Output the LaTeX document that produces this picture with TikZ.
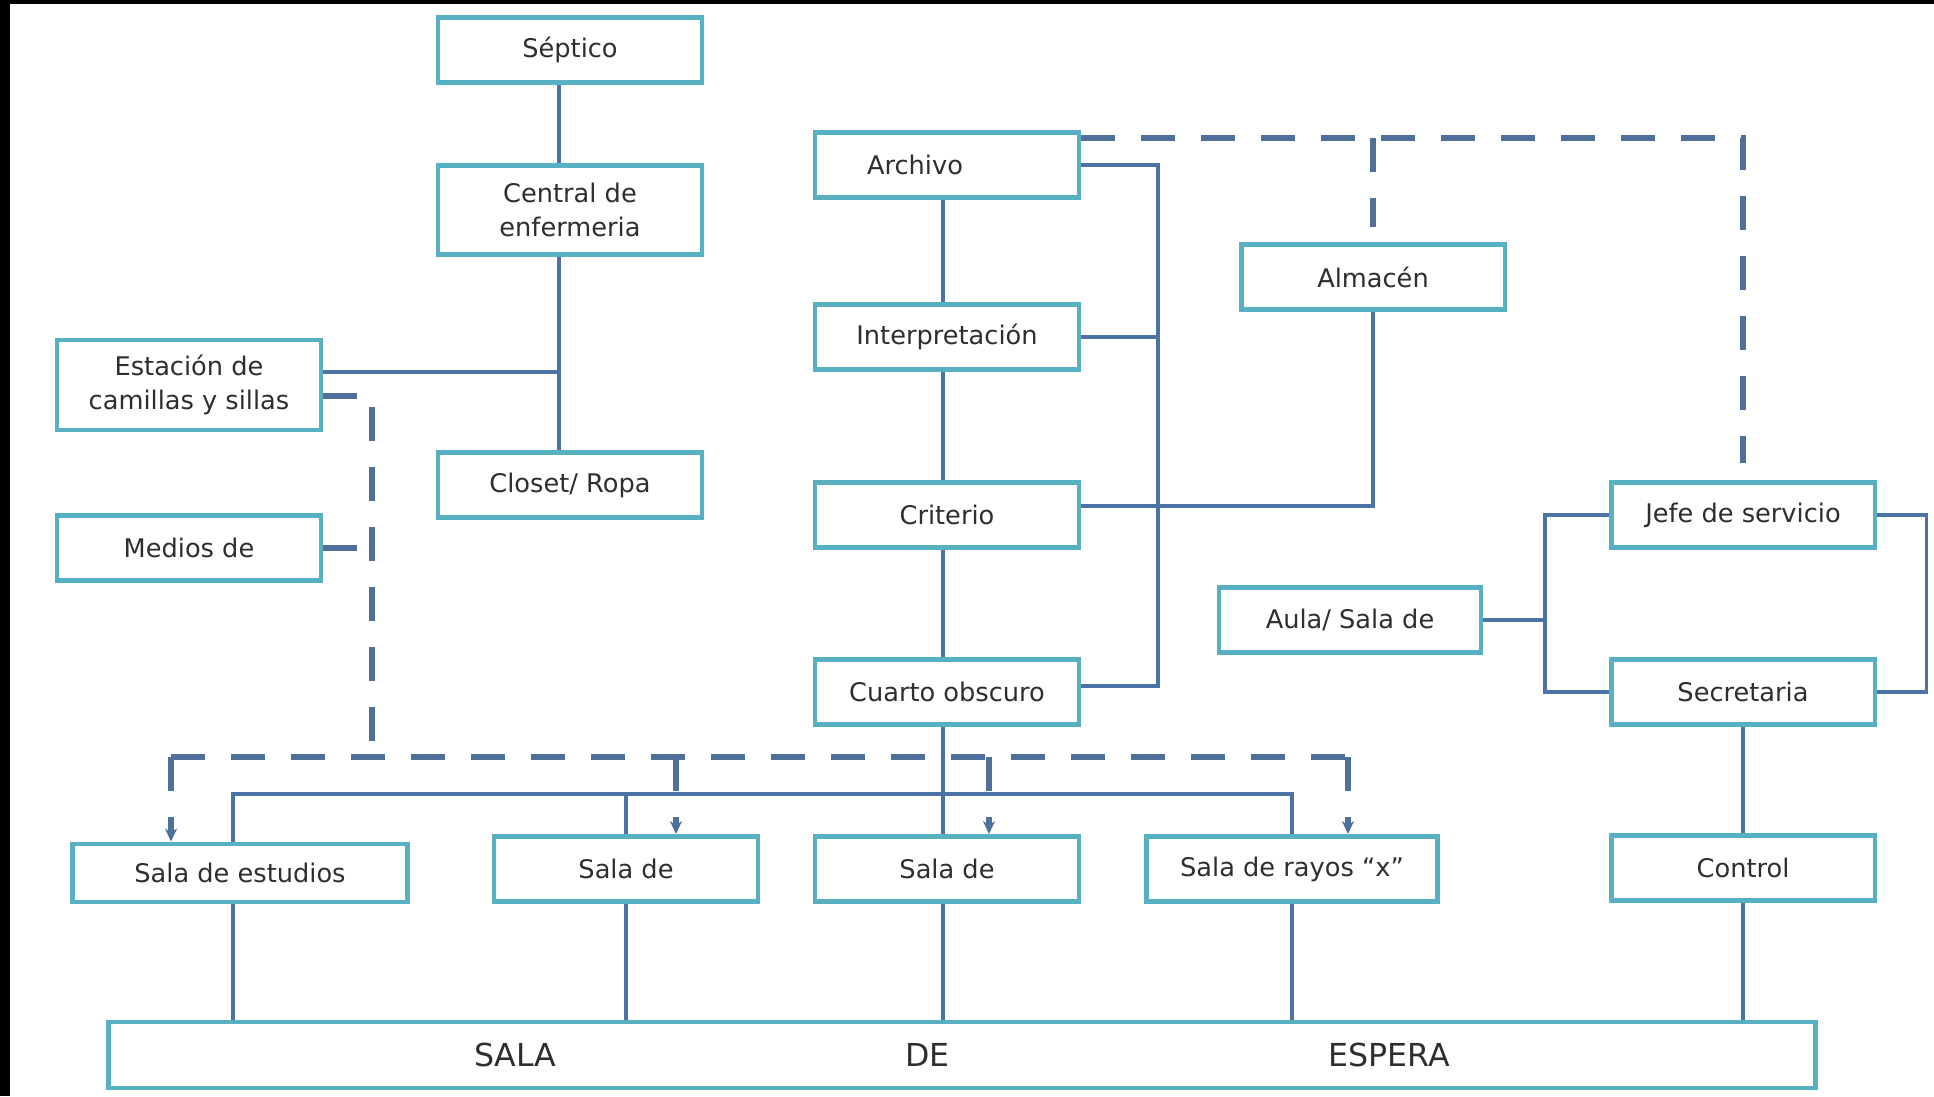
\documentclass[tikz,border=0pt]{standalone}
\usepackage{fontspec}
\setmainfont{DejaVu Sans}
\usetikzlibrary{arrows.meta}
\definecolor{caja}{HTML}{57B1C2}
\definecolor{linea}{HTML}{4B73A6}
\definecolor{guion}{HTML}{50709C}
\definecolor{texto}{HTML}{2E2E2E}

\begin{document}
\begin{tikzpicture}[x=0.02cm, y=-0.02cm,
    area/.style={draw=caja, fill=white, line width=2.8pt, inner sep=0pt,
                 minimum width=5.28cm, minimum height=1.3cm, align=center,
                 text=texto, font=\fontsize{14.6}{19.6}\selectfont},
    conn/.style={draw=linea, line width=2.2pt},
    dashln/.style={draw=guion, line width=3pt, dash pattern=on 0.68cm off 0.52cm},
    flecha/.style={-{Stealth[length=0.26cm, width=0.24cm]}},
]

\useasboundingbox (0,0) rectangle (1934,1096);
\fill[white] (0,0) rectangle (1934,1096);
\fill[black] (0,0) rectangle (10,1096);
\fill[black] (0,0) rectangle (1934,4);

% Enfermeria
\node[area] (septico) at (570,50) {Séptico};
\node[area, minimum height=1.78cm] (central) at (570,210) {Central de\\enfermeria};
\node[area, minimum height=1.8cm] (estacion) at (189,385) {Estación de\\camillas y sillas};
\node[area] (closet) at (570,485) {Closet/ Ropa};
\node[area] (medios) at (189,548) {Medios de};

% Interpretacion
\node[area] (archivo) at (947,165) {Archivo\hspace*{1.28cm}};
\node[area] (interp) at (947,337) {Interpretación};
\node[area] (criterio) at (947,515) {Criterio};
\node[area] (cuarto) at (947,692) {Cuarto obscuro};
\node[area] (almacen) at (1373,277) {Almacén};

% Jefatura
\node[area, minimum width=5.24cm] (aula) at (1350,620) {Aula/ Sala de};
\node[area] (jefe) at (1743,515) {Jefe de servicio};
\node[area] (secretaria) at (1743,692) {Secretaria};
\node[area] (control) at (1743,868) {Control};

% Salas
\node[area, minimum width=6.7cm, minimum height=1.16cm] (sala1) at (240,873) {Sala de estudios};
\node[area] (sala2) at (626,869) {Sala de};
\node[area] (sala3) at (947,869) {Sala de};
\node[area, minimum width=5.82cm] (sala4) at (1292,869) {Sala de rayos “x”};
\node[area, minimum width=34.14cm, minimum height=1.32cm,
      font=\fontsize{18}{22}\selectfont] (espera) at (962,1055)
      {SALA\hspace*{6.98cm}DE\hspace*{7.58cm}ESPERA};

% Puntos de paso
\coordinate (busA) at (1158,0);
\coordinate (busB) at (1545,0);
\coordinate (busC) at (0,794);
\coordinate (dl) at (0,757);
\coordinate (drop) at (372,757);
\coordinate (ttop) at ([yshift=0.54cm]archivo.east);
\coordinate (s1) at ([xshift=-0.14cm]sala1.north);
\coordinate (e1) at ([xshift=-1.38cm]sala1.north);
\coordinate (e2) at ([xshift=1.0cm]sala2.north);
\coordinate (e3) at ([xshift=0.84cm]sala3.north);
\coordinate (e4) at ([xshift=1.12cm]sala4.north);

% Lineas continuas
\draw[conn] ([xshift=-0.22cm]septico.south) -- ([xshift=-0.22cm]central.north);
\draw[conn] ([xshift=-0.22cm]central.south) -- ([xshift=-0.22cm]closet.north);
\draw[conn] ([yshift=0.26cm]estacion.east) -- ([yshift=0.26cm,xshift=-0.22cm]estacion.east -| central.south);
\draw[conn] ([xshift=-0.08cm]archivo.south) -- ([xshift=-0.08cm]interp.north);
\draw[conn] ([xshift=-0.08cm]interp.south) -- ([xshift=-0.08cm]criterio.north);
\draw[conn] ([xshift=-0.08cm]criterio.south) -- ([xshift=-0.08cm]cuarto.north);
\draw[conn] ([xshift=-0.08cm]cuarto.south) -- ([xshift=-0.08cm]sala3.north);
\draw[conn] (archivo.east) -- (archivo.east -| busA) -- ([yshift=0.12cm]cuarto.east -| busA)
            -- ([yshift=0.12cm]cuarto.east);
\draw[conn] (interp.east) -- (interp.east -| busA);
\draw[conn] ([yshift=0.18cm]criterio.east) -| (almacen.south);
\draw[conn] (aula.east) -- (aula.east -| busB);
\draw[conn] (jefe.west) -- (jefe.west -| busB) -- (secretaria.west -| busB) -- (secretaria.west);
\draw[conn] (jefe.east) -- ++(49,0) |- (secretaria.east);
\draw[conn] (secretaria) -- (control);
\draw[conn] (control) -- (control |- espera.north);
\draw[conn] (s1) |- (sala4.north |- busC) -- (sala4.north);
\draw[conn] (sala2.north) -- (sala2.north |- busC);
\draw[conn] (s1 |- sala1.south) -- (s1 |- espera.north);
\foreach \s in {sala2,sala4}
    \draw[conn] (\s) -- (\s |- espera.north);
\draw[conn] ([xshift=-0.08cm]sala3.south) -- ([xshift=-0.08cm]sala3.south |- espera.north);

% Lineas discontinuas
\draw[dashln, shorten >=0.34cm] (ttop) -| (jefe.north);
\draw[dashln, shorten >=0.3cm] (ttop -| almacen.north) -- (almacen.north);
\draw[dashln] ([yshift=-0.22cm]estacion.east) -| (drop);
\draw[dashln] (medios.east) -- (medios.east -| drop);
\draw[dashln] (e1 |- dl) -- (e4 |- dl);
\foreach \e in {e1,e2,e3,e4}
    \draw[dashln, flecha] (\e |- dl) -- (\e);

\end{tikzpicture}
\end{document}
